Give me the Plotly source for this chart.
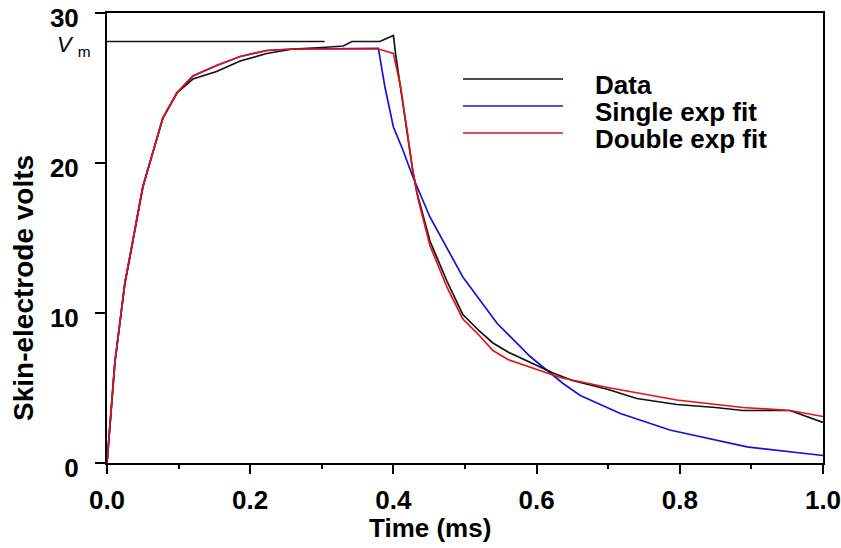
import plotly.graph_objects as go

# ---------------- data ----------------
VM = 28.1
vm_t = [0.0, 0.304]

data_t = [0, 0.004, 0.011, 0.025, 0.032, 0.05, 0.078, 0.098, 0.12, 0.153, 0.186, 0.223,
          0.26, 0.30, 0.33, 0.342, 0.381, 0.40, 0.403, 0.41, 0.419, 0.427, 0.433, 0.451,
          0.475, 0.497, 0.52, 0.539, 0.56, 0.591, 0.623, 0.65, 0.70, 0.74, 0.796, 0.85,
          0.888, 0.954, 1.0]
data_v = [0, 2.6, 6.7, 12.0, 13.7, 18.4, 23.0, 24.7, 25.6, 26.1, 26.8, 27.3,
          27.6, 27.7, 27.8, 28.1, 28.1, 28.5, 27.3, 25.0, 22.2, 19.5, 18.0, 14.8,
          12.1, 9.9, 8.8, 8.0, 7.4, 6.7, 6.0, 5.5, 4.9, 4.3, 3.9, 3.7,
          3.5, 3.5, 2.7]

single_t = [0, 0.004, 0.011, 0.025, 0.05, 0.078, 0.098, 0.12, 0.153, 0.186, 0.223, 0.26,
            0.30, 0.379, 0.388, 0.40, 0.413, 0.427, 0.451, 0.497, 0.545, 0.591, 0.637,
            0.661, 0.717, 0.786, 0.894, 0.958, 1.0]
single_v = [0, 2.6, 6.7, 12.0, 18.4, 23.0, 24.7, 25.8, 26.5, 27.1, 27.5, 27.6,
            27.6, 27.65, 25.1, 22.4, 20.9, 19.1, 16.4, 12.4, 9.3, 7.1, 5.3,
            4.5, 3.3, 2.2, 1.07, 0.7, 0.5]

double_t = [0, 0.004, 0.011, 0.025, 0.05, 0.078, 0.098, 0.12, 0.153, 0.186, 0.223, 0.26,
            0.30, 0.379, 0.40, 0.41, 0.419, 0.427, 0.435, 0.451, 0.475, 0.497, 0.52,
            0.539, 0.56, 0.591, 0.633, 0.703, 0.796, 0.888, 0.954, 1.0]
double_v = [0, 2.6, 6.7, 12.0, 18.4, 23.0, 24.7, 25.8, 26.5, 27.1, 27.5, 27.6,
            27.6, 27.6, 27.3, 25.1, 22.2, 19.5, 17.5, 14.5, 11.7, 9.6, 8.5,
            7.5, 6.9, 6.4, 5.7, 5.0, 4.2, 3.7, 3.5, 3.1]

series_names = ["Data", "Single exp fit", "Double exp fit"]
series_colors = ["#111111", "#1414d8", "#e0141e"]

x_ticks = [0.0, 0.2, 0.4, 0.6, 0.8, 1.0]
x_ticklabels = ["0.0", "0.2", "0.4", "0.6", "0.8", "1.0"]
y_ticks = [0, 10, 20, 30]
y_ticklabels = ["0", "10", "20", "30"]

x_title = "Time (ms)"
y_title = "Skin-electrode volts"

FONT = "Liberation Sans, Arial, sans-serif"
FS_TICK = 26
FS_LEG = 26
FS_XT = 26
FS_YT = 28
LW = 1.7

fig = go.Figure()
fig.add_trace(go.Scatter(x=vm_t, y=[VM, VM], mode="lines",
                         line=dict(color=series_colors[0], width=1.5), showlegend=False))
fig.add_trace(go.Scatter(x=single_t, y=single_v, mode="lines", name=series_names[1],
                         line=dict(color=series_colors[1], width=LW), showlegend=False))
fig.add_trace(go.Scatter(x=data_t, y=data_v, mode="lines", name=series_names[0],
                         line=dict(color=series_colors[0], width=LW), showlegend=False))
fig.add_trace(go.Scatter(x=double_t, y=double_v, mode="lines", name=series_names[2],
                         line=dict(color=series_colors[2], width=LW), showlegend=False))

W, H = 841, 548
PL, PR, PT, PB = 107, 823, 13, 463          # plot area in window pixels
L, T, R, B = PL, PT, W - PR, H - PB
pw, ph = PR - PL, PB - PT

def px(xw):
    return (xw - PL) / pw

def py(yw):
    return (PB - yw) / ph

# custom legend
leg_line_y = [79, 106, 133]
shapes = []
annotations = []
for i, name in enumerate(series_names):
    shapes.append(dict(type="line", xref="paper", yref="paper",
                       x0=px(463), x1=px(563), y0=py(leg_line_y[i]), y1=py(leg_line_y[i]),
                       line=dict(color=series_colors[i], width=LW)))
    annotations.append(dict(xref="paper", yref="paper", x=px(593), y=py(leg_line_y[i] + 6),
                            xanchor="left", yanchor="middle", showarrow=False, text=name,
                            font=dict(family=FONT, size=FS_LEG, color="black", weight="bold")))

# Vm label
annotations.append(dict(xref="paper", yref="y", x=px(93), y=VM - 0.3, xanchor="right",
                        yanchor="middle", showarrow=False,
                        text="<i>V</i> <sub>m</sub>",
                        font=dict(family=FONT, size=22, color="black")))
# axis titles
annotations.append(dict(xref="paper", yref="paper", x=px(430), y=py(528), xanchor="center",
                        yanchor="middle", showarrow=False, text=x_title,
                        font=dict(family=FONT, size=FS_XT, color="black", weight="bold")))
annotations.append(dict(xref="paper", yref="paper", x=px(23), y=py(288), xanchor="center",
                        yanchor="middle", showarrow=False, text=y_title, textangle=-90,
                        font=dict(family=FONT, size=FS_YT, color="black", weight="bold")))

fig.update_layout(
    width=W, height=H, autosize=False,
    margin=dict(l=L, r=R, t=T, b=B, pad=0, autoexpand=False),
    paper_bgcolor="white", plot_bgcolor="white",
    shapes=shapes, annotations=annotations,
    xaxis=dict(range=[0, 1], tickmode="array", tickvals=x_ticks, ticktext=x_ticklabels,
               showgrid=False, zeroline=False, showline=True, linecolor="black",
               linewidth=2, mirror=True, ticks="outside", ticklen=9, tickwidth=2,
               tickcolor="black", ticklabelstandoff=4, automargin=False,
               ticklabeloverflow="allow",
               tickfont=dict(family=FONT, size=FS_TICK, color="black", weight="bold"),
               minor=dict(dtick=0.1, tick0=0, ticks="outside", ticklen=4, tickwidth=2,
                          tickcolor="black", showgrid=False)),
    yaxis=dict(range=[0, 30], tickmode="array", tickvals=y_ticks, ticktext=y_ticklabels,
               showgrid=False, zeroline=False, showline=True, linecolor="black",
               linewidth=2, mirror=True, ticks="outside", ticklen=10, tickwidth=2,
               tickcolor="black", ticklabelstandoff=11, ticklabelshift=5, automargin=False,
               ticklabeloverflow="allow",
               tickfont=dict(family=FONT, size=FS_TICK, color="black", weight="bold")),
)

# remove the page's default 8px body margin so the figure sits at the window origin
fig.write_html("out.html", config={"displayModeBar": False},
               post_script="document.body.style.margin='0';")
